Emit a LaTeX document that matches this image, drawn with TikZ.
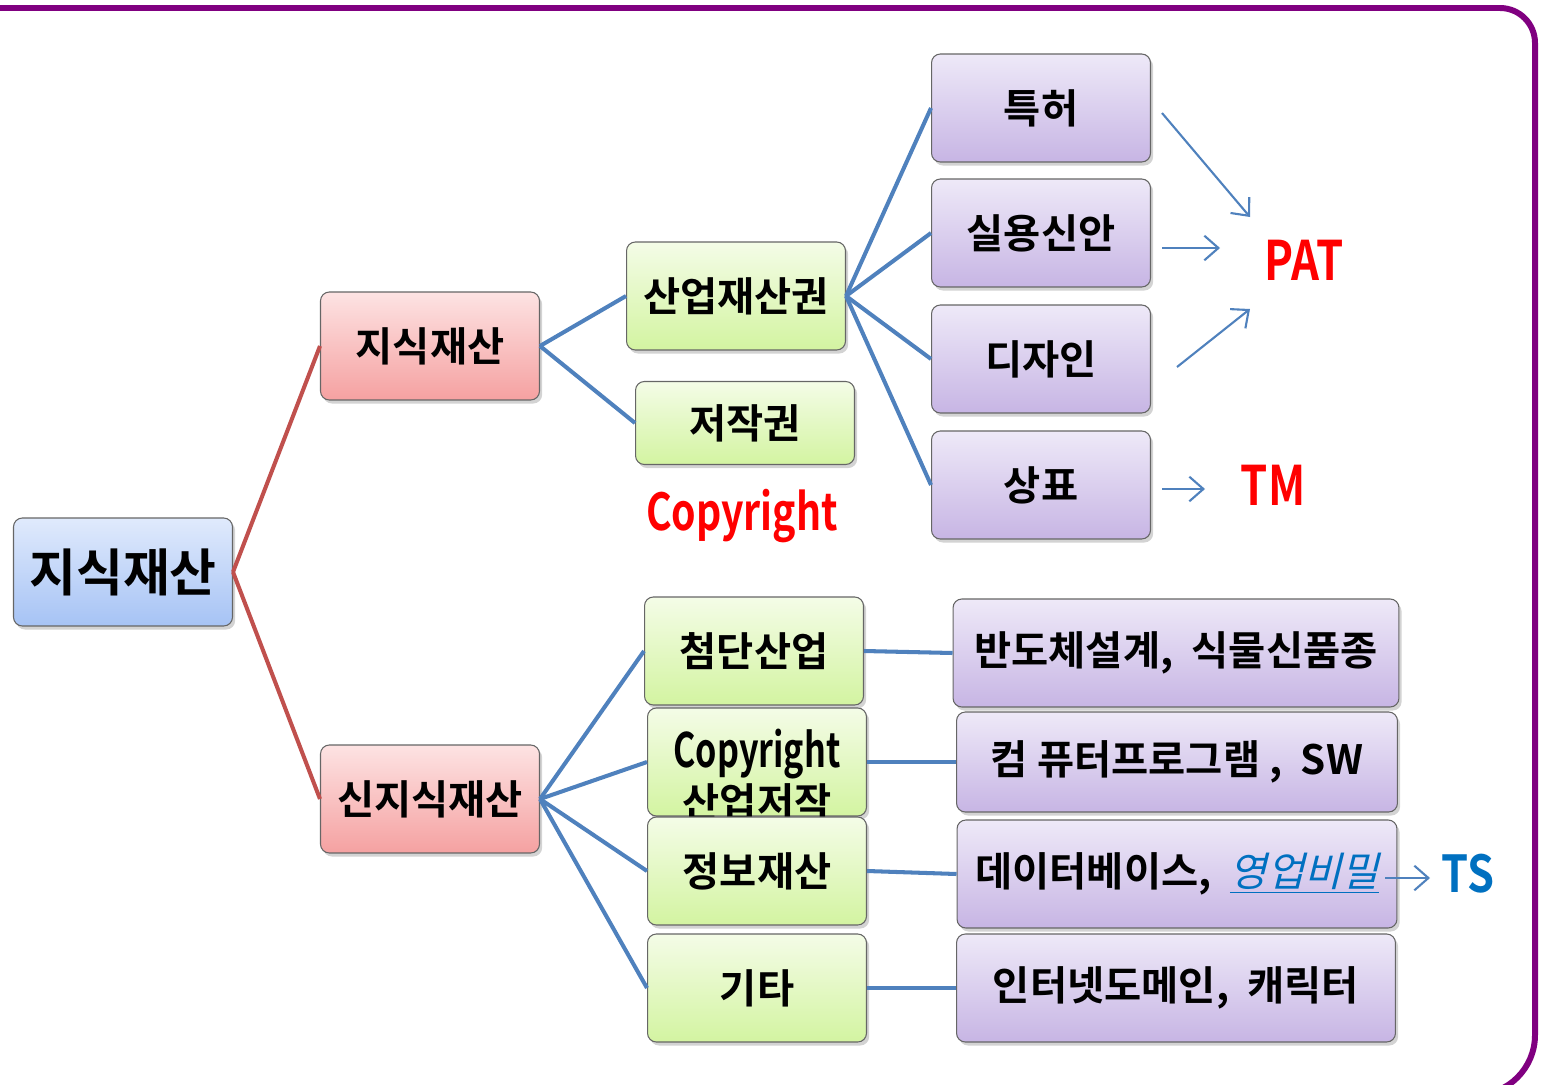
\documentclass[tikz,border=0pt]{standalone}
\usepackage{fontspec}
\setmainfont{Noto Sans CJK KR}[BoldFont={Noto Sans CJK KR Bold}]
\newfontfamily\krslant{Noto Sans CJK KR}[FakeSlant=0.25]
\usepackage{tikz}
\usetikzlibrary{positioning, shadows, arrows.meta}

\definecolor{framepurple}{HTML}{800080}
\definecolor{linkblue}{HTML}{4F81BD}
\definecolor{linkred}{HTML}{C0504D}
\definecolor{tsblue}{HTML}{0070C0}
\definecolor{rootA}{HTML}{E0EAFC}
\definecolor{rootB}{HTML}{A6C3F5}
\definecolor{pinkA}{HTML}{FDE3E3}
\definecolor{pinkB}{HTML}{F5A1A1}
\definecolor{greenA}{HTML}{F4FCE7}
\definecolor{greenB}{HTML}{D3F4A1}
\definecolor{lilacA}{HTML}{EEE9F8}
\definecolor{lilacB}{HTML}{C7B5E4}
\newcommand{\narrow}[2]{\scalebox{#1}[1]{#2}}

\begin{document}
\begin{tikzpicture}[x=0.02cm, y=-0.02cm, font=\bfseries]
        % Setup the styles for the boxes
        \tikzset{box style/.style={draw=gray!80!black, line width=0.6pt,
                                    rounded corners=5pt,
                                    minimum width=4.38cm, minimum height=2.16cm,
                                    inner sep=0pt,
                                    drop shadow={shadow xshift=1.5pt, shadow yshift=-2pt, opacity=0.35},
                                    font=\bfseries\fontsize{23}{27}\selectfont},
                 root style/.style={box style, top color=rootA, bottom color=rootB,
                                    font=\bfseries\fontsize{29}{33}\selectfont},
                 pink style/.style={box style, top color=pinkA, bottom color=pinkB},
                 green style/.style={box style, top color=greenA, bottom color=greenB},
                 lilac style/.style={box style, top color=lilacA, bottom color=lilacB},
                 link/.style={line width=2.3pt},
                 hint/.style={linkblue, line width=1.2pt, -{Straight Barb[length=8pt, width=14pt, line width=1.2pt]}}}

        \useasboundingbox (0,0) rectangle (1542,1085);

        % Frame
        \draw[framepurple, line width=3.4pt] (-60,8) -- (1500,8)
            arc[start angle=-90, end angle=0, radius=35] -- (1535,1035)
            arc[start angle=0, end angle=90, radius=60] -- (-60,1095);

        % Draw the boxes
        \node[root style] at (123, 572) (root) {지식재산};
        \node[pink style] at (430, 346) (ip) {지식재산};
        \node[pink style] at (430, 799) (newip) {신지식재산};
        \node[green style] at (736, 296) (industrial) {산업재산권};
        \node[green style, minimum height=1.66cm] at (745, 423) (copyright) {저작권};
        \node[green style] at (754, 651) (hightech) {첨단산업};
        \node[green style] at (757, 762) (indcopy) {};
        \node[font=\bfseries\fontsize{23}{28}\selectfont, align=center] at (757, 775) (indcopytext)
            {\fontsize{27}{27}\selectfont\narrow{0.72}{Copyright}\\산업저작};
        \node[green style] at (757, 871) (info) {정보재산};
        \node[green style] at (757, 988) (etc) {기타};

        \node[lilac style] at (1041, 108) (patent) {특허};
        \node[lilac style] at (1041, 233) (utility) {실용신안};
        \node[lilac style] at (1041, 359) (design) {디자인};
        \node[lilac style] at (1041, 485) (trademark) {상표};

        \node[lilac style, minimum width=8.92cm] at (1176, 653) (semi) {반도체설계,\ \ 식물신품종};
        \node[lilac style, minimum width=8.82cm, minimum height=2cm] at (1177, 762) (software) {컴 퓨터프로그램 ,\ \ SW};
        \node[lilac style, minimum width=8.8cm] at (1177, 874) (database)
            {데이터베이스,\ \ \textcolor{tsblue}{\mdseries\krslant\underline{영업비밀}}\hspace{0.2cm}};
        \node[lilac style, minimum width=8.78cm] at (1176, 988) (domain) {인터넷도메인,\ \ 캐릭터};

        % Labels
        \node[red, font=\bfseries\fontsize{29}{30}\selectfont] at (742, 516) (copylabel) {\narrow{0.77}{Copyright}};
        \node[red, font=\bfseries\fontsize{31}{32}\selectfont] at (1304, 260) (pat) {\narrow{0.8}{PAT}};
        \node[red, font=\bfseries\fontsize{31}{32}\selectfont] at (1273, 485) (tm) {\narrow{0.8}{TM}};
        \node[tsblue, font=\bfseries\fontsize{29}{30}\selectfont] at (1468, 874) (ts) {\narrow{0.85}{TS}};

        % Connect the boxes
        \draw[link, linkred]
            (root.east) edge (ip.west)
            (root.east) edge (newip.west);
        \draw[link, linkblue]
            (ip.east)         edge (industrial.west)
            (ip.east)         edge (copyright.west)
            (industrial.east) edge (patent.west)
            (industrial.east) edge (utility.west)
            (industrial.east) edge (design.west)
            (industrial.east) edge (trademark.west)
            (newip.east)      edge (hightech.west)
            (newip.east)      edge (indcopy.west)
            (newip.east)      edge (info.west)
            (newip.east)      edge (etc.west)
            (hightech.east)   edge (semi.west)
            (indcopy.east)    edge (software.west)
            (info.east)       edge (database.west)
            (etc.east)        edge (domain.west);

        % Arrows to the abbreviations
        \draw[hint] ([shift={(11,5)}]patent.east) -- ([shift={(-54,-43)}]pat.center);
        \draw[hint] ([shift={(11,15)}]utility.east) -- ([shift={(-84,-12)}]pat.center);
        \draw[hint] ([shift={(26,8)}]design.east) -- ([shift={(-54,49)}]pat.center);
        \draw[hint] ([shift={(11,4)}]trademark.east) -- ([shift={(-68,4)}]tm.center);
        \draw[hint] ([shift={(-12,4)}]database.east) -- ([shift={(-38,4)}]ts.center);
\end{tikzpicture}
\end{document}
